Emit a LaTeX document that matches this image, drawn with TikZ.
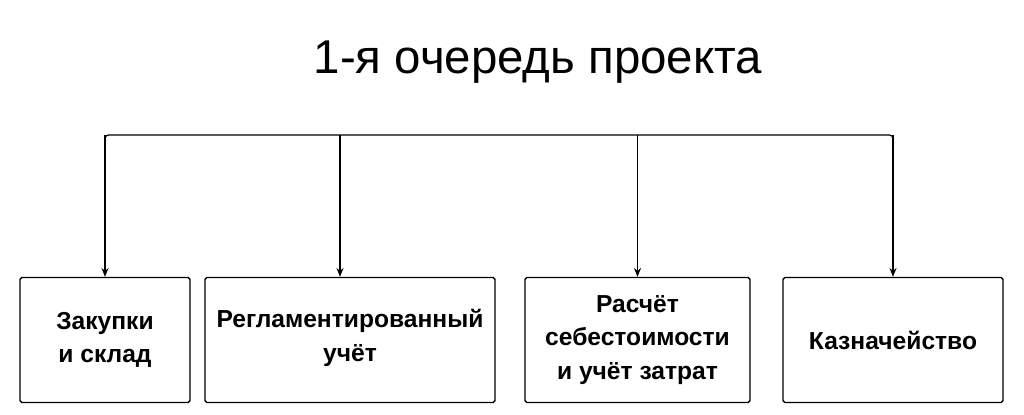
\documentclass[tikz,border=0pt]{standalone}
\usepackage{fontspec}
\setmainfont{Liberation Sans}
\usetikzlibrary{arrows.meta}

\tikzset{
    unitbox/.style={draw, line width=0.8pt, rounded corners=1pt, align=center,
        font=\fontsize{14}{19}\selectfont\bfseries, inner sep=0pt},
    feed/.style={-{Stealth[length=5pt,width=4pt]}, line width=0.7pt}
}

\begin{document}
\begin{tikzpicture}[x=0.02cm, y=-0.02cm]
    \useasboundingbox (0,0) rectangle (1024,415);

    % Title
    \node (title) at (538,62) {\fontsize{27}{32}\selectfont 1-я очередь проекта};

    % Boxes
    \node[unitbox, minimum width=3.4cm, minimum height=2.5cm] (purchase) at (105,340) {Закупки\\и склад};
    \node[unitbox, minimum width=5.8cm, minimum height=2.5cm] (ledger) at (350,340) {};
    \node[font=\fontsize{14}{19}\selectfont\bfseries, align=center] (ledgertext) at (350,338) {Регламентированный\\учёт};
    \node[unitbox, minimum width=4.5cm, minimum height=2.5cm] (costing) at (637.5,340) {Расчёт\\себестоимости\\и учёт затрат};
    \node[unitbox, minimum width=4.4cm, minimum height=2.5cm] (treasury) at (893,340) {Казначейство};

    % Bus line
    \coordinate (busL) at (105,135);
    \coordinate (busR) at (893,135);
    \coordinate (busB) at (340,135);
    \draw[line width=0.7pt, rounded corners=2pt] (busL) ++(0,4) -- (busL) -- (busR) -- ++(0,4);

    % Arrows
    \draw[feed] (busL) -- (purchase.north);
    \draw[feed] (busB) -- (busB |- ledger.north);
    \draw[feed] (costing.north |- busL) -- (costing.north);
    \draw[feed] (busR) -- (treasury.north);
\end{tikzpicture}
\end{document}
